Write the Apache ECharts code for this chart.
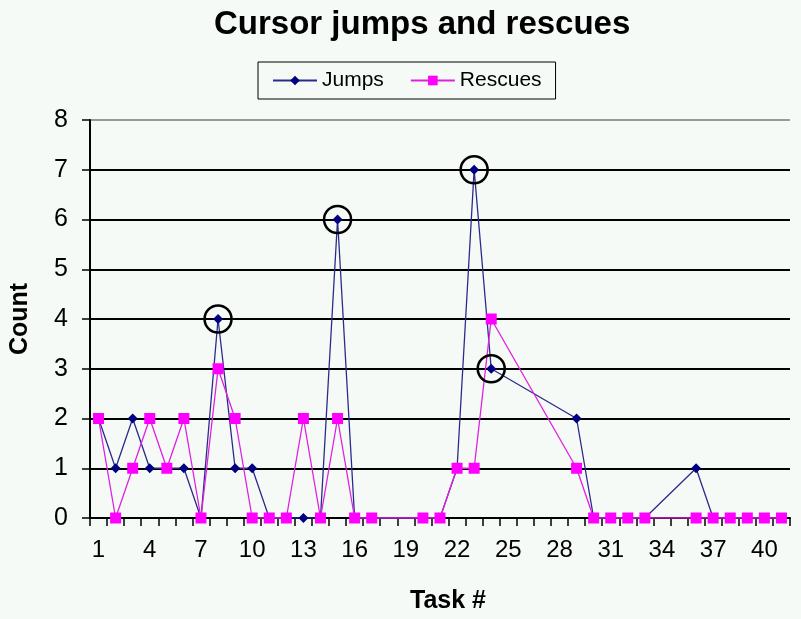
<!DOCTYPE html>
<html>
	<head>
		<meta charset="utf-8" />
		<title>Cursor jumps and rescues</title>
		<style type="text/css">
			html,body{
				margin: 0;
				width: 100%;
				height: 100%;
				background: #f6faf7;
			}
		</style>
	</head>
	<body>
		<div id="chart" style="width:801px;height:619px;"></div>
		<script src="https://cdn.jsdelivr.net/npm/echarts@6/dist/echarts.min.js"></script>
		<script>
			// task numbers 1..41 on the category axis
			var tasks = [];
			for(var i = 1; i <= 41; i++) {
				tasks.push(String(i));
			}
			// null = no value for that task (line joins across)
			var jumps = [2, 1, 2, 1, 1, 1, 0, 4, 1, 1, 0, 0, 0, 0, 6, 0, 0, null, null, 0, 0, 1, 7, 3, null, null, null, null, 2, 0, 0, 0, 0, null, null, 1, 0, 0, 0, 0, 0];
			var rescues = [2, 0, 1, 2, 1, 2, 0, 3, 2, 0, 0, 0, 2, 0, 2, 0, 0, null, null, 0, 0, 1, 1, 4, null, null, null, null, 1, 0, 0, 0, 0, null, null, 0, 0, 0, 0, 0, 0];
			// tasks whose jump point is circled
			var circled = [8, 15, 23, 24];

			var circleMarks = circled.map(function(t) {
				return { coord: [String(t), jumps[t - 1]] };
			});

			var font = 'Liberation Sans, Arial, sans-serif';
			var myChart = echarts.init(document.getElementById('chart'));
			var option = {
				backgroundColor: '#f6faf7',
				animation: false,
				title: {
					text: 'Cursor jumps and rescues',
					left: 209,
					top: 3,
					textStyle: {
						fontFamily: font,
						fontSize: 33,
						fontWeight: 'bold',
						color: '#000'
					}
				},
				legend: {
					left: 258,
					top: 62,
					padding: [8, 14, 8, 14],
					borderColor: '#000',
					borderWidth: 1,
					itemWidth: 44,
					itemHeight: 12,
					itemGap: 26,
					textStyle: {
						fontFamily: font,
						fontSize: 21,
						color: '#000'
					},
					data: ['Jumps', 'Rescues']
				},
				grid: {
					left: 89,
					right: 11,
					top: 120,
					bottom: 98,
					containLabel: false
				},
				xAxis: {
					type: 'category',
					data: tasks,
					boundaryGap: true,
					name: 'Task #',
					nameLocation: 'middle',
					nameGap: 71,
					nameTextStyle: {
						fontFamily: font,
						fontSize: 25,
						fontWeight: 'bold',
						color: '#000',
						padding: [0, 0, 0, 16]
					},
					axisLine: { lineStyle: { color: '#000', width: 2 } },
					axisTick: { show: true, interval: 0, inside: false, length: 8, lineStyle: { color: '#000', width: 1.5 } },
					axisLabel: {
						interval: 2,
						margin: 20,
						fontFamily: font,
						fontSize: 24,
						color: '#000'
					},
					splitLine: { show: false }
				},
				yAxis: {
					type: 'value',
					min: 0,
					max: 8,
					interval: 1,
					name: 'Count',
					nameLocation: 'middle',
					nameGap: 57,
					nameTextStyle: {
						fontFamily: font,
						fontSize: 25,
						fontWeight: 'bold',
						color: '#000'
					},
					axisLine: { show: true, lineStyle: { color: '#000', width: 2 } },
					axisTick: { show: true, length: 8, lineStyle: { color: '#000', width: 1.5 } },
					axisLabel: {
						margin: 22,
						fontFamily: font,
						fontSize: 25,
						color: '#000'
					},
					splitLine: {
						lineStyle: {
							color: ['#000', '#000', '#000', '#000', '#000', '#000', '#000', '#000', '#999'],
							width: 2
						}
					}
				},
				series: [{
					name: 'Jumps',
					type: 'line',
					data: jumps,
					connectNulls: true,
					symbol: 'diamond',
					symbolSize: 10,
					itemStyle: { color: '#000080' },
					lineStyle: { color: '#2a2a8a', width: 1.3 },
					markPoint: {
						symbol: 'circle',
						symbolSize: 27,
						label: { show: false },
						itemStyle: {
							color: 'rgba(0,0,0,0)',
							borderColor: '#000',
							borderWidth: 2.5
						},
						data: circleMarks
					}
				}, {
					name: 'Rescues',
					type: 'line',
					data: rescues,
					connectNulls: true,
					symbol: 'rect',
					symbolSize: 11,
					itemStyle: { color: '#ff00ff' },
					lineStyle: { color: '#e020e0', width: 1.3 }
				}]
			};
			myChart.setOption(option);
		</script>
	</body>
</html>
